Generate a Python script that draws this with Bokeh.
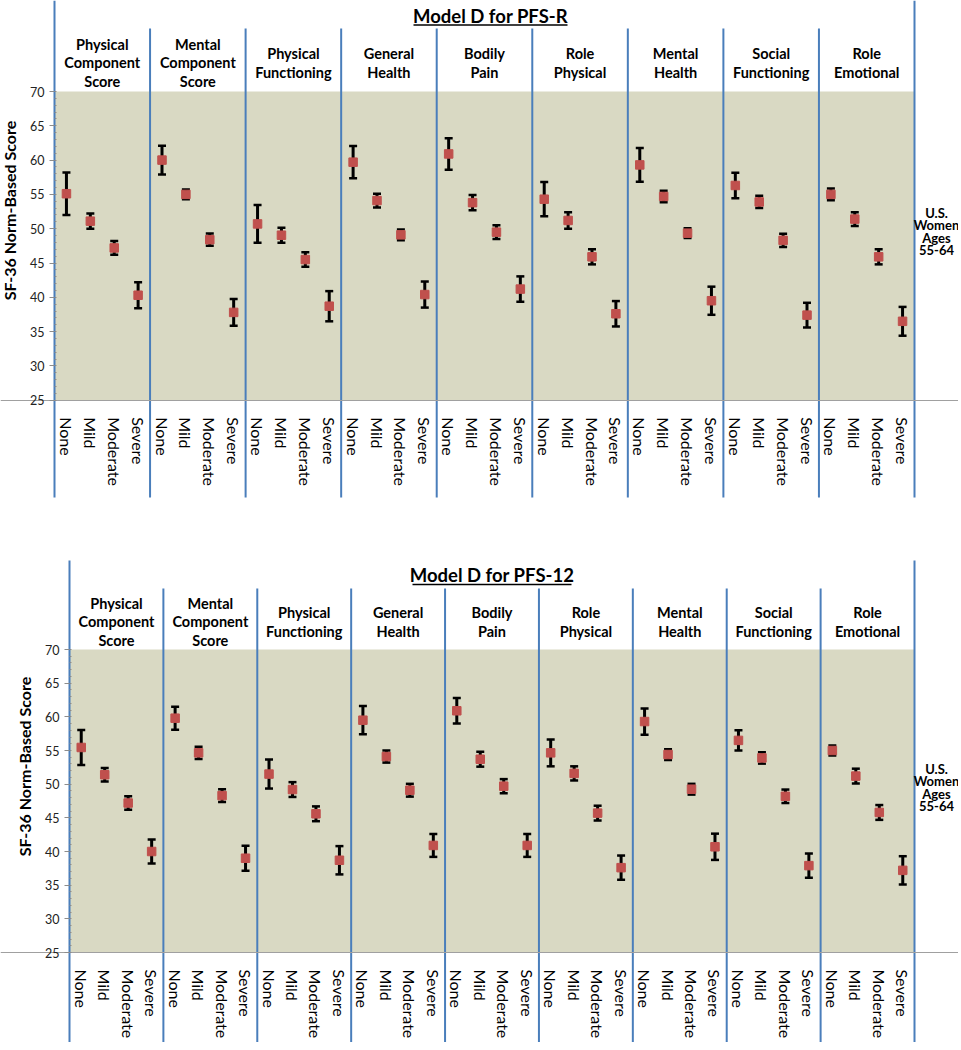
import numpy as np
from bokeh.plotting import figure
from bokeh.layouts import column
from bokeh.models import FixedTicker, Range1d, ColumnDataSource
from bokeh.core.properties import value
from bokeh.embed import file_html
from bokeh.resources import INLINE

# ---------------- data ----------------
scales = ["Physical\nComponent\nScore", "Mental\nComponent\nScore", "Physical\nFunctioning",
          "General\nHealth", "Bodily\nPain", "Role\nPhysical", "Mental\nHealth",
          "Social\nFunctioning", "Role\nEmotional"]
levels = ["None", "Mild", "Moderate", "Severe"]
y_ticks = [25, 30, 35, 40, 45, 50, 55, 60, 65, 70]
norm_label = "U.S.\nWomen\nAges\n55-64"
y_title = "SF-36 Norm-Based Score"
titles = ["Model D for PFS-R", "Model D for PFS-12"]

pfsr_mean = [55.1, 51.1, 47.2, 40.3,
             60.0, 55.0, 48.4, 37.8,
             50.7, 49.05, 45.5, 38.7,
             59.7, 54.1, 49.1, 40.4,
             60.9, 53.8, 49.5, 41.2,
             54.3, 51.2, 45.9, 37.6,
             59.3, 54.7, 49.35, 39.5,
             56.3, 53.9, 48.3, 37.4,
             55.0, 51.4, 45.9, 36.5]
pfsr_err = [3.1, 1.1, 1.0, 1.9,
            2.1, 0.7, 0.9, 1.95,
            2.75, 1.1, 1.05, 2.2,
            2.35, 1.0, 0.8, 1.9,
            2.3, 1.1, 1.0, 1.85,
            2.5, 1.2, 1.1, 1.85,
            2.45, 0.85, 0.7, 2.05,
            1.85, 0.9, 0.95, 1.8,
            0.85, 1.0, 1.1, 2.1]

pfs12_mean = [55.45, 51.4, 47.2, 40.0,
              59.8, 54.65, 48.3, 39.0,
              51.5, 49.2, 45.6, 38.7,
              59.5, 54.1, 49.1, 40.9,
              60.9, 53.7, 49.7, 40.9,
              54.65, 51.6, 45.7, 37.6,
              59.3, 54.4, 49.25, 40.7,
              56.5, 53.9, 48.2, 37.9,
              55.0, 51.2, 45.8, 37.2]
pfs12_err = [2.6, 1.0, 1.0, 1.8,
             1.7, 0.9, 0.95, 1.85,
             2.15, 1.1, 1.1, 2.1,
             2.1, 0.9, 0.95, 1.7,
             1.9, 1.1, 1.05, 1.7,
             2.0, 1.05, 1.1, 1.8,
             1.95, 0.8, 0.8, 1.95,
             1.5, 0.85, 1.0, 1.8,
             0.75, 1.1, 1.1, 2.1]

# ---------------- styles / layout ----------------
FONT = value("Lato")
BLUE = "#4a7ebb"
OLIVE = "#d9d9c3"
RED = "#c0504d"
FIG_W = 958

geo_top = dict(axis_x=54, right_x=914, y70=91, y25=399.7, fig_top=0, fig_bottom=530,
               line_top=0, sep_top=28, line_bottom=497, header_y=62.5,
               title_x=490, title_y=15.5, ul_x0=413, ul_x1=567, ul_y=24.5,
               norm_x=936, norm_y=231, ytitle_x=9, ytitle_y=210)
geo_bot = dict(axis_x=69, right_x=914, y70=649, y25=952, fig_top=530, fig_bottom=1042,
               line_top=560, sep_top=588, line_bottom=1047, header_y=621.5,
               title_x=491.5, title_y=574.5, ul_x0=412, ul_x1=571, ul_y=584,
               norm_x=936, norm_y=787, ytitle_x=24, ytitle_y=766)


def make_panel(title, means, errs, g):
    n = len(levels) * len(scales)
    ppx = (g["right_x"] - g["axis_x"]) / n
    ppy = (g["y25"] - g["y70"]) / (y_ticks[-1] - y_ticks[0])

    def xd(px):
        return -0.5 + (px - g["axis_x"]) / ppx

    def yd(py):
        return y_ticks[-1] - (py - g["y70"]) / ppy

    H = g["fig_bottom"] - g["fig_top"]
    p = figure(width=FIG_W, height=H, output_backend="svg", toolbar_location=None,
               x_range=Range1d(xd(0), xd(FIG_W)),
               y_range=Range1d(yd(g["fig_bottom"]), yd(g["fig_top"])),
               min_border=0, min_border_left=0, min_border_right=0,
               min_border_top=0, min_border_bottom=0)
    p.outline_line_color = None
    p.grid.visible = False
    p.background_fill_color = "white"

    # plot area background
    p.quad(left=-0.5, right=n - 0.5, bottom=y_ticks[0], top=y_ticks[-1],
           fill_color=OLIVE, line_color=None)

    # blue separators
    bounds = [4 * k - 0.5 for k in range(len(scales) + 1)]
    tops = [yd(g["line_top"]) if k in (0, len(scales)) else yd(g["sep_top"])
            for k in range(len(scales) + 1)]
    p.segment(x0=bounds, x1=bounds, y0=[yd(g["line_bottom"])] * len(bounds), y1=tops,
              line_color=BLUE, line_width=2)

    xs = list(range(n))
    m = np.array(means)
    e = np.array(errs)
    src = ColumnDataSource(dict(x=xs, m=m, lo=m - e, hi=m + e))
    p.segment(x0="x", x1="x", y0="lo", y1="hi", source=src, line_color="black", line_width=3)
    p.scatter(x="x", y="lo", source=src, marker="dash", size=8, line_color="black", line_width=2.5)
    p.scatter(x="x", y="hi", source=src, marker="dash", size=8, line_color="black", line_width=2.5)
    p.scatter(x="x", y="m", source=src, marker="square", size=8.5, fill_color=RED, line_color=RED)

    # headers
    centers = [4 * k + 1.5 for k in range(len(scales))]
    p.text(x=centers, y=[yd(g["header_y"])] * len(scales), text=scales,
           text_font=FONT, text_font_style="bold", text_font_size="14.5px",
           text_align="center", text_baseline="middle", text_line_height=1.1,
           text_color="black")

    # title with underline
    p.text(x=[xd(g["title_x"])], y=[yd(g["title_y"])], text=[title], text_font=FONT,
           text_font_style="bold", text_font_size="18.5px", text_align="center",
           text_baseline="middle", text_color="black")
    p.segment(x0=[xd(g["ul_x0"])], x1=[xd(g["ul_x1"])], y0=[yd(g["ul_y"])], y1=[yd(g["ul_y"])],
              line_color="black", line_width=1.5)

    # right-hand label
    p.text(x=[xd(g["norm_x"])], y=[yd(g["norm_y"])], text=[norm_label], text_font=FONT,
           text_font_style="bold", text_font_size="13px", text_align="center",
           text_baseline="middle", text_line_height=0.78, text_color="black")

    # y-axis title
    p.text(x=[xd(g["ytitle_x"])], y=[yd(g["ytitle_y"])], text=[y_title], text_font=FONT,
           text_font_style="bold", text_font_size="16px", text_align="center",
           text_baseline="middle", angle=np.pi / 2, text_color="black")

    # axes
    xa = p.xaxis[0]
    xa.fixed_location = y_ticks[0]
    xa.ticker = FixedTicker(ticks=xs)
    xa.major_label_overrides = {i: levels[i % len(levels)] for i in xs}
    xa.major_label_orientation = "vertical"
    xa.major_tick_line_color = None
    xa.minor_tick_line_color = None
    xa.axis_line_color = "#a0a0a0"
    xa.major_label_text_font = "Lato"
    xa.major_label_text_font_size = "16px"
    xa.major_label_text_color = "black"
    xa.major_label_standoff = 11

    ya = p.yaxis[0]
    ya.fixed_location = -0.5
    ya.ticker = FixedTicker(ticks=y_ticks, minor_ticks=list(range(y_ticks[0], y_ticks[-1] + 1)))
    ya.axis_line_color = None
    ya.major_tick_line_color = "#8c8c8c"
    ya.major_tick_out = 5
    ya.major_tick_in = 0
    ya.minor_tick_line_color = "#8c8c8c"
    ya.minor_tick_in = 2
    ya.minor_tick_out = 0
    ya.major_label_text_font = "Lato"
    ya.major_label_text_font_size = "12.5px"
    ya.major_label_text_color = "#222222"
    ya.major_label_standoff = 5
    return p


p1 = make_panel(titles[0], pfsr_mean, pfsr_err, geo_top)
p2 = make_panel(titles[1], pfs12_mean, pfs12_err, geo_bot)
p = column(p1, p2, spacing=0)

open("out.html", "w").write(file_html(p, INLINE))
